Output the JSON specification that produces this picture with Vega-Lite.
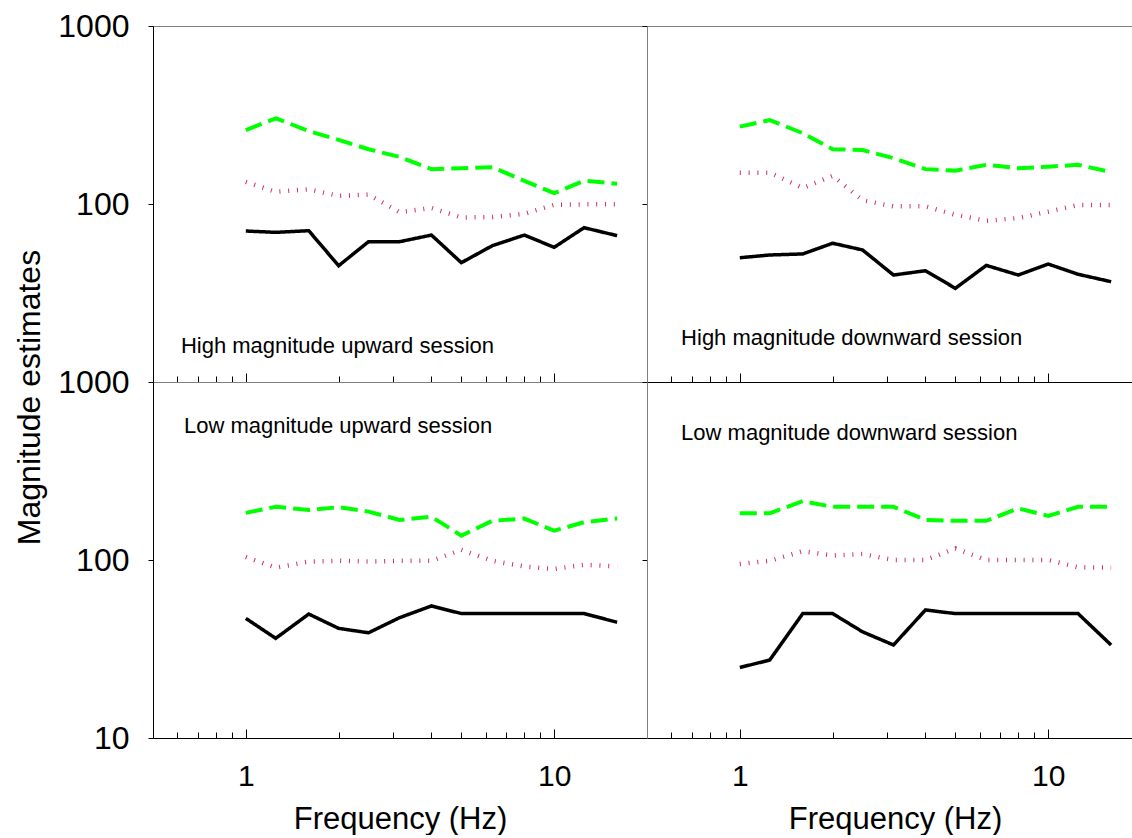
{
  "$schema": "https://vega.github.io/schema/vega-lite/v6.json",
  "padding": {"left": 12, "top": 9, "right": 0, "bottom": 0},
  "background": "white",
  "config": {
    "font": "Liberation Sans",
    "view": {"stroke": "#808080", "strokeWidth": 1},
    "axis": {"grid": false, "labelFont": "Liberation Sans", "titleFont": "Liberation Sans"},
    "concat": {"spacing": 0}
  },
  "datasets": {
    "lines": [
      {"session": "High upward", "freq": 1, "solid": 70.5, "dashed": 260, "dotted": 133},
      {"session": "High upward", "freq": 1.25, "solid": 69.3, "dashed": 303, "dotted": 117},
      {"session": "High upward", "freq": 1.6, "solid": 70.8, "dashed": 257, "dotted": 121},
      {"session": "High upward", "freq": 2, "solid": 45, "dashed": 229, "dotted": 111},
      {"session": "High upward", "freq": 2.5, "solid": 61.4, "dashed": 203, "dotted": 113},
      {"session": "High upward", "freq": 3.15, "solid": 61.4, "dashed": 184, "dotted": 90},
      {"session": "High upward", "freq": 4, "solid": 66.9, "dashed": 157, "dotted": 95},
      {"session": "High upward", "freq": 5, "solid": 46.8, "dashed": 159, "dotted": 84},
      {"session": "High upward", "freq": 6.3, "solid": 58.3, "dashed": 161, "dotted": 84.5},
      {"session": "High upward", "freq": 8, "solid": 66.9, "dashed": 135, "dotted": 88},
      {"session": "High upward", "freq": 10, "solid": 57.1, "dashed": 115, "dotted": 99},
      {"session": "High upward", "freq": 12.5, "solid": 73.6, "dashed": 135, "dotted": 99.6},
      {"session": "High upward", "freq": 16, "solid": 66.4, "dashed": 130, "dotted": 99.6},
      {"session": "High downward", "freq": 1, "solid": 49.9, "dashed": 272, "dotted": 150},
      {"session": "High downward", "freq": 1.25, "solid": 51.7, "dashed": 296, "dotted": 150},
      {"session": "High downward", "freq": 1.6, "solid": 52.4, "dashed": 250, "dotted": 123},
      {"session": "High downward", "freq": 2, "solid": 60.2, "dashed": 203, "dotted": 144},
      {"session": "High downward", "freq": 2.5, "solid": 55.2, "dashed": 201, "dotted": 105},
      {"session": "High downward", "freq": 3.15, "solid": 39.9, "dashed": 181, "dotted": 97},
      {"session": "High downward", "freq": 4, "solid": 42.2, "dashed": 157, "dotted": 97},
      {"session": "High downward", "freq": 5, "solid": 33.6, "dashed": 154, "dotted": 87},
      {"session": "High downward", "freq": 6.3, "solid": 45.2, "dashed": 166, "dotted": 80.5},
      {"session": "High downward", "freq": 8, "solid": 39.9, "dashed": 159, "dotted": 83.4},
      {"session": "High downward", "freq": 10, "solid": 46, "dashed": 162, "dotted": 90.5},
      {"session": "High downward", "freq": 12.5, "solid": 40.3, "dashed": 166, "dotted": 98.7},
      {"session": "High downward", "freq": 16, "solid": 36.6, "dashed": 151, "dotted": 98.7},
      {"session": "Low upward", "freq": 1, "solid": 47, "dashed": 184, "dotted": 104},
      {"session": "Low upward", "freq": 1.25, "solid": 36.3, "dashed": 199, "dotted": 90.5},
      {"session": "Low upward", "freq": 1.6, "solid": 49.7, "dashed": 191, "dotted": 98},
      {"session": "Low upward", "freq": 2, "solid": 41.3, "dashed": 198, "dotted": 99},
      {"session": "Low upward", "freq": 2.5, "solid": 39, "dashed": 187, "dotted": 98},
      {"session": "Low upward", "freq": 3.15, "solid": 47.4, "dashed": 168, "dotted": 99},
      {"session": "Low upward", "freq": 4, "solid": 55.2, "dashed": 175, "dotted": 99},
      {"session": "Low upward", "freq": 5, "solid": 50, "dashed": 137, "dotted": 114},
      {"session": "Low upward", "freq": 6.3, "solid": 50, "dashed": 166, "dotted": 99},
      {"session": "Low upward", "freq": 8, "solid": 50, "dashed": 171, "dotted": 92},
      {"session": "Low upward", "freq": 10, "solid": 50, "dashed": 146, "dotted": 89},
      {"session": "Low upward", "freq": 12.5, "solid": 50, "dashed": 163, "dotted": 94},
      {"session": "Low upward", "freq": 16, "solid": 44.7, "dashed": 171, "dotted": 92},
      {"session": "Low downward", "freq": 1, "solid": 24.9, "dashed": 183, "dotted": 95},
      {"session": "Low downward", "freq": 1.25, "solid": 27.4, "dashed": 183, "dotted": 99},
      {"session": "Low downward", "freq": 1.6, "solid": 50, "dashed": 214, "dotted": 112},
      {"session": "Low downward", "freq": 2, "solid": 50, "dashed": 199, "dotted": 106},
      {"session": "Low downward", "freq": 2.5, "solid": 39.5, "dashed": 199, "dotted": 108},
      {"session": "Low downward", "freq": 3.15, "solid": 33.3, "dashed": 199, "dotted": 100},
      {"session": "Low downward", "freq": 4, "solid": 52.4, "dashed": 168, "dotted": 100},
      {"session": "Low downward", "freq": 5, "solid": 50, "dashed": 166, "dotted": 116},
      {"session": "Low downward", "freq": 6.3, "solid": 50, "dashed": 166, "dotted": 100},
      {"session": "Low downward", "freq": 8, "solid": 50, "dashed": 195, "dotted": 100},
      {"session": "Low downward", "freq": 10, "solid": 50, "dashed": 177, "dotted": 100},
      {"session": "Low downward", "freq": 12.5, "solid": 50, "dashed": 199, "dotted": 91},
      {"session": "Low downward", "freq": 16, "solid": 33.3, "dashed": 199, "dotted": 90.5}
    ],
    "notes": [
      {"session": "High upward", "freq": 0.616, "value": 14.55, "label": "High magnitude upward session"},
      {"session": "High downward", "freq": 0.645, "value": 16.1, "label": "High magnitude downward session"},
      {"session": "Low upward", "freq": 0.63, "value": 517, "label": "Low magnitude upward session"},
      {"session": "Low downward", "freq": 0.645, "value": 472, "label": "Low magnitude downward session"}
    ]
  },
  "columns": 2,
  "spacing": 0,
  "bounds": "flush",
  "align": "each",
  "concat": [
    {
      "width": 494,
      "height": 356,
      "encoding": {
        "x": {"field": "freq", "type": "quantitative",
          "scale": {"type": "log", "domain": [0.5, 20], "nice": false},
          "axis": {"orient": "bottom", "values": [0.6, 0.7, 0.8, 0.9, 1, 2, 3, 4, 5, 6, 7, 8, 9, 10], "labels": false, "title": null,
            "tickSize": {"condition": {"test": "datum.value == 1 || datum.value == 10", "value": -9}, "value": -6},
            "tickColor": "black", "domainColor": "black", "grid": false}},
        "y": {"field": "value", "type": "quantitative",
          "scale": {"type": "log", "domain": [10, 1000], "nice": false},
          "axis": {"orient": "left", "values": [100, 1000], "labelExpr": "'' + datum.value", "tickSize": 5, "tickColor": "black", "domainColor": "black",
            "labelFontSize": 32, "labelColor": "black", "labelPadding": 19, "labelFlush": false, "labelOverlap": false, "grid": false, "title": null}}
      },
      "layer": [
        {
          "data": {"name": "lines"},
          "transform": [
            {"filter": "datum.session == 'High upward'"},
            {"fold": ["solid", "dashed", "dotted"], "as": ["series", "value"]}
          ],
          "mark": {"type": "line", "strokeCap": "butt"},
          "encoding": {
            "color": {"field": "series", "type": "nominal", "scale": {"domain": ["solid", "dashed", "dotted"], "range": ["#000000", "#00ff00", "#d03060"]}, "legend": null},
            "strokeDash": {"field": "series", "type": "nominal", "scale": {"domain": ["solid", "dashed", "dotted"], "range": [[1, 0], [17, 7], [1, 7.8]]}, "legend": null},
            "strokeWidth": {"field": "series", "type": "nominal", "scale": {"domain": ["solid", "dashed", "dotted"], "range": [3.5, 4.5, 1.1]}, "legend": null},
            "order": {"field": "freq", "type": "quantitative"}
          }
        },
        {
          "data": {"name": "notes"},
          "transform": [{"filter": "datum.session == 'High upward'"}],
          "mark": {"type": "text", "align": "left", "baseline": "alphabetic", "fontSize": 22, "font": "Liberation Sans", "color": "black"},
          "encoding": {"text": {"field": "label"}}
        }
      ]
    },
    {
      "width": 486,
      "height": 356,
      "view": {"stroke": null},
      "resolve": {"axis": {"x": "independent"}},
      "encoding": {
        "y": {"field": "value", "type": "quantitative",
          "scale": {"type": "log", "domain": [10, 1000], "nice": false},
          "axis": {"orient": "left", "values": [100, 1000], "labels": false, "tickSize": 5, "tickColor": "black", "domainColor": "#808080", "grid": false, "title": null}}
      },
      "layer": [
        {
          "data": {"name": "lines"},
          "transform": [
            {"filter": "datum.session == 'High downward'"},
            {"fold": ["solid", "dashed", "dotted"], "as": ["series", "value"]}
          ],
          "mark": {"type": "line", "strokeCap": "butt"},
          "encoding": {
            "x": {"field": "freq", "type": "quantitative",
              "scale": {"type": "log", "domain": [0.5, 18.84], "nice": false},
              "axis": {"orient": "bottom", "values": [0.6, 0.7, 0.8, 0.9, 1, 2, 3, 4, 5, 6, 7, 8, 9, 10], "labels": false, "title": null,
                "tickSize": {"condition": {"test": "datum.value == 1 || datum.value == 10", "value": -9}, "value": -6},
                "tickColor": "black", "domainColor": "black", "grid": false}},
            "color": {"field": "series", "type": "nominal", "scale": {"domain": ["solid", "dashed", "dotted"], "range": ["#000000", "#00ff00", "#d03060"]}, "legend": null},
            "strokeDash": {"field": "series", "type": "nominal", "scale": {"domain": ["solid", "dashed", "dotted"], "range": [[1, 0], [17, 7], [1, 7.8]]}, "legend": null},
            "strokeWidth": {"field": "series", "type": "nominal", "scale": {"domain": ["solid", "dashed", "dotted"], "range": [3.5, 4.5, 1.1]}, "legend": null},
            "order": {"field": "freq", "type": "quantitative"}
          }
        },
        {
          "data": {"name": "notes"},
          "transform": [{"filter": "datum.session == 'High downward'"}],
          "mark": {"type": "text", "align": "left", "baseline": "alphabetic", "fontSize": 22, "font": "Liberation Sans", "color": "black"},
          "encoding": {
            "x": {"field": "freq", "type": "quantitative",
              "axis": {"orient": "top", "labels": false, "ticks": false, "title": null, "domainColor": "#808080", "grid": false}},
            "text": {"field": "label"}
          }
        }
      ]
    },
    {
      "width": 494,
      "height": 356,
      "encoding": {
        "x": {"field": "freq", "type": "quantitative",
          "scale": {"type": "log", "domain": [0.5, 20], "nice": false},
          "axis": {"orient": "bottom", "values": [0.6, 0.7, 0.8, 0.9, 1, 2, 3, 4, 5, 6, 7, 8, 9, 10],
            "labelExpr": "datum.value == 1 || datum.value == 10 ? '' + datum.value : ''",
            "labelFontSize": 30, "labelColor": "black", "labelBaseline": "alphabetic", "labelPadding": 56, "labelFlush": false, "labelOverlap": false,
            "tickSize": {"condition": {"test": "datum.value == 1 || datum.value == 10", "value": -9}, "value": -6},
            "tickColor": "black", "domainColor": "black", "grid": false,
            "title": "Frequency (Hz)", "titleFontSize": 31, "titleFontWeight": "normal", "titleColor": "black", "titleBaseline": "alphabetic", "titleAlign": "center", "titleX": 247, "titleY": 90}},
        "y": {"field": "value", "type": "quantitative",
          "scale": {"type": "log", "domain": [10, 1000], "nice": false},
          "axis": {"orient": "left", "values": [10, 100, 1000], "labelExpr": "'' + datum.value", "tickSize": 5, "tickColor": "black", "domainColor": "black",
            "labelFontSize": 32, "labelColor": "black", "labelPadding": 19, "labelFlush": false, "labelOverlap": false, "grid": false,
            "title": "Magnitude estimates", "titleFontSize": 32, "titleFontWeight": "normal", "titleColor": "black", "titleAngle": 270, "titleBaseline": "alphabetic", "titleAlign": "center", "titleX": -114, "titleY": 15}}
      },
      "layer": [
        {
          "data": {"name": "lines"},
          "transform": [
            {"filter": "datum.session == 'Low upward'"},
            {"fold": ["solid", "dashed", "dotted"], "as": ["series", "value"]}
          ],
          "mark": {"type": "line", "strokeCap": "butt"},
          "encoding": {
            "color": {"field": "series", "type": "nominal", "scale": {"domain": ["solid", "dashed", "dotted"], "range": ["#000000", "#00ff00", "#d03060"]}, "legend": null},
            "strokeDash": {"field": "series", "type": "nominal", "scale": {"domain": ["solid", "dashed", "dotted"], "range": [[1, 0], [17, 7], [1, 7.8]]}, "legend": null},
            "strokeWidth": {"field": "series", "type": "nominal", "scale": {"domain": ["solid", "dashed", "dotted"], "range": [3.5, 4.5, 1.1]}, "legend": null},
            "order": {"field": "freq", "type": "quantitative"}
          }
        },
        {
          "data": {"name": "notes"},
          "transform": [{"filter": "datum.session == 'Low upward'"}],
          "mark": {"type": "text", "align": "left", "baseline": "alphabetic", "fontSize": 22, "font": "Liberation Sans", "color": "black"},
          "encoding": {"text": {"field": "label"}}
        }
      ]
    },
    {
      "width": 486,
      "height": 356,
      "view": {"stroke": null},
      "encoding": {
        "x": {"field": "freq", "type": "quantitative",
          "scale": {"type": "log", "domain": [0.5, 18.84], "nice": false},
          "axis": {"orient": "bottom", "values": [0.6, 0.7, 0.8, 0.9, 1, 2, 3, 4, 5, 6, 7, 8, 9, 10],
            "labelExpr": "datum.value == 1 || datum.value == 10 ? '' + datum.value : ''",
            "labelFontSize": 30, "labelColor": "black", "labelBaseline": "alphabetic", "labelPadding": 56, "labelFlush": false, "labelOverlap": false,
            "tickSize": {"condition": {"test": "datum.value == 1 || datum.value == 10", "value": -9}, "value": -6},
            "tickColor": "black", "domainColor": "black", "grid": false,
            "title": "Frequency (Hz)", "titleFontSize": 31, "titleFontWeight": "normal", "titleColor": "black", "titleBaseline": "alphabetic", "titleAlign": "center", "titleX": 248, "titleY": 90}},
        "y": {"field": "value", "type": "quantitative",
          "scale": {"type": "log", "domain": [10, 1000], "nice": false},
          "axis": {"orient": "left", "values": [10, 100, 1000], "labels": false, "tickSize": 5, "tickColor": "black", "domainColor": "#808080", "grid": false, "title": null}}
      },
      "layer": [
        {
          "data": {"name": "lines"},
          "transform": [
            {"filter": "datum.session == 'Low downward'"},
            {"fold": ["solid", "dashed", "dotted"], "as": ["series", "value"]}
          ],
          "mark": {"type": "line", "strokeCap": "butt"},
          "encoding": {
            "color": {"field": "series", "type": "nominal", "scale": {"domain": ["solid", "dashed", "dotted"], "range": ["#000000", "#00ff00", "#d03060"]}, "legend": null},
            "strokeDash": {"field": "series", "type": "nominal", "scale": {"domain": ["solid", "dashed", "dotted"], "range": [[1, 0], [17, 7], [1, 7.8]]}, "legend": null},
            "strokeWidth": {"field": "series", "type": "nominal", "scale": {"domain": ["solid", "dashed", "dotted"], "range": [3.5, 4.5, 1.1]}, "legend": null},
            "order": {"field": "freq", "type": "quantitative"}
          }
        },
        {
          "data": {"name": "notes"},
          "transform": [{"filter": "datum.session == 'Low downward'"}],
          "mark": {"type": "text", "align": "left", "baseline": "alphabetic", "fontSize": 22, "font": "Liberation Sans", "color": "black"},
          "encoding": {"text": {"field": "label"}}
        }
      ]
    }
  ]
}
